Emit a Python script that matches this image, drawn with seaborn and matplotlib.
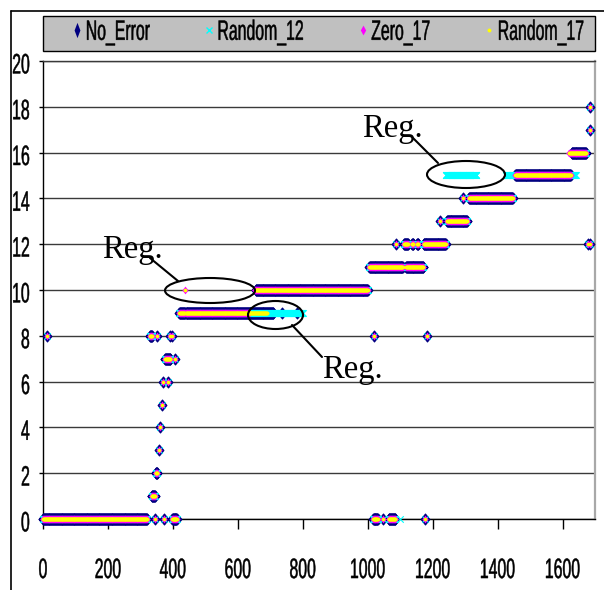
import numpy as np
import pandas as pd
import matplotlib
matplotlib.use("Agg")
import matplotlib.pyplot as plt
import seaborn as sns
from matplotlib.lines import Line2D
from matplotlib.markers import MarkerStyle
from matplotlib.patches import Ellipse, Rectangle
from matplotlib.path import Path
from matplotlib.patheffects import AbstractPathEffect
from matplotlib.transforms import Affine2D, ScaledTranslation

# Class level per sample index, stored as runs: (first index, last index, class)
common_runs = [
    (0, 320, 0), (345, 345, 0), (374, 374, 0), (398, 412, 0),
    (13, 13, 8), (330, 336, 8), (351, 351, 8), (390, 390, 8), (398, 398, 8),
    (335, 345, 1), (347, 352, 2), (357, 357, 3), (361, 361, 4), (366, 366, 5),
    (370, 370, 6), (385, 385, 6), (376, 392, 7), (408, 408, 7),
    (420, 436, 9), (440, 635, 9),
    (1017, 1031, 0), (1048, 1048, 0), (1065, 1085, 0), (1175, 1175, 0),
    (1018, 1018, 8), (1183, 1183, 8),
    (1005, 1108, 11), (1118, 1171, 11),
    (1086, 1086, 12), (1112, 1124, 12), (1136, 1140, 12), (1152, 1156, 12),
    (1172, 1240, 12), (1677, 1677, 12), (1686, 1686, 12),
    (1224, 1224, 13), (1244, 1306, 13),
    (1292, 1292, 14), (1312, 1446, 14),
    (1685, 1685, 17), (1685, 1685, 18),
]
no_error_runs = [(438, 438, 9), (636, 709, 9), (737, 737, 9), (782, 782, 9),
                 (655, 1000, 10), (1455, 1625, 15), (1628, 1672, 16)]
random_12_runs = [(438, 438, 9), (636, 800, 9), (801, 1000, 10), (1098, 1098, 0),
                  (1240, 1335, 15), (1425, 1640, 15), (1628, 1672, 16)]
zero_17_runs = [(438, 438, 10), (652, 1000, 10), (1455, 1625, 15), (1620, 1672, 16)]
random_17_runs = [(438, 438, 10), (636, 690, 9), (655, 1000, 10),
                  (1455, 1625, 15), (1620, 1672, 16)]

series_names = ["No_Error", "Random_12", "Zero_17", "Random_17"]
x_ticks = [0, 200, 400, 600, 800, 1000, 1200, 1400, 1600]
y_ticks = [0, 2, 4, 6, 8, 10, 12, 14, 16, 18, 20]
note_label = "Reg."


def expand(runs):
    xs, ys = [], []
    for first, last, level in runs:
        idx = np.arange(first, last + 1)
        xs.append(idx)
        ys.append(np.full(idx.size, level))
    return pd.DataFrame({"index": np.concatenate(xs), "class": np.concatenate(ys)})


class Stretch(AbstractPathEffect):
    """Draw text paths stretched vertically about the middle of the cap height,
    with a thin outline in the text colour to give the glyphs some weight."""

    def __init__(self, sy, cy=36.0, stroke=0.35):
        super().__init__()
        self._t = Affine2D().translate(0, -cy).scale(1.0, sy).translate(0, cy)
        self._stroke = stroke

    def draw_path(self, renderer, gc, tpath, affine, rgbFace=None):
        gc0 = renderer.new_gc()
        gc0.copy_properties(gc)
        if rgbFace is not None:
            gc0.set_foreground(rgbFace)
        gc0.set_linewidth(self._stroke)
        renderer.draw_path(gc0, tpath, self._t + affine, rgbFace)
        gc0.restore()


sns.set_theme(style="white")
plt.rcParams["font.family"] = ["Liberation Sans", "DejaVu Sans"]
stretch = [Stretch(1.77)]
FS = 11.4

W, H = 604, 590
fig = plt.figure(figsize=(W / 100, H / 100), dpi=100)
fig.patch.set_facecolor("white")
ax_l, ax_r, ax_t, ax_b = 43, 595, 61, 519
ax = fig.add_axes([ax_l / W, 1 - ax_b / H, (ax_r - ax_l) / W, (ax_b - ax_t) / H])
ax.set_facecolor("white")


def diamond(ratio):
    return MarkerStyle(Path([(0, 1), (ratio, 0), (0, -1), (-ratio, 0), (0, 1)], closed=True))


styles = [
    dict(marker=diamond(0.8), s=62, color="#000080", edgecolor="#000080", linewidth=0.8),
    dict(marker="x", s=22, color="#00FFFF", linewidth=0.8),
    dict(marker=diamond(0.8), s=31, color="#FF00FF", linewidth=0),
    dict(marker="o", s=7, color="#FFFF00", linewidth=0),
]
all_runs = [no_error_runs, random_12_runs, zero_17_runs, random_17_runs]

for k, (runs, st) in enumerate(zip(all_runs, styles)):
    df = expand(common_runs + runs)
    sns.scatterplot(data=df, x="index", y="class", ax=ax, legend=False, zorder=3 + k, **st)
    ax.collections[-1].set_clip_on(False)

ax.set_xlim(0, 1700)
ax.set_ylim(0, 20)
ax.set_xticks(x_ticks)
ax.set_yticks(y_ticks)
ax.set_xlabel("")
ax.set_ylabel("")
ax.grid(axis="y", color="#3a3a3a", linewidth=1.0)
ax.grid(axis="x", visible=False)
ax.set_axisbelow(True)

for side in ["left", "bottom"]:
    ax.spines[side].set_color("black")
    ax.spines[side].set_linewidth(1.0)
ax.spines["top"].set_color("#3a3a3a")
ax.spines["top"].set_linewidth(1.0)
ax.spines["right"].set_color("#a8a8a8")
ax.spines["right"].set_linewidth(1.6)

ax.tick_params(axis="x", direction="out", length=7.2, width=1.0, color="black",
               pad=23.5, labelsize=FS, labelcolor="black", bottom=True)
ax.tick_params(axis="y", direction="out", length=3.0, width=1.0, color="black",
               pad=6.5, labelsize=FS, labelcolor="black", left=True)
for lab in ax.get_xticklabels() + ax.get_yticklabels():
    lab.set_path_effects(stretch)
for lab in ax.get_yticklabels():
    lab.set_transform(lab.get_transform() + ScaledTranslation(0, -2 / 100, fig.dpi_scale_trans))

# Outer chart frame
fig.add_artist(Line2D([11 / W, 11 / W], [0, 1 - 11 / H], transform=fig.transFigure,
                      color="black", linewidth=1.2))
fig.add_artist(Line2D([11 / W, 1], [1 - 11 / H, 1 - 11 / H], transform=fig.transFigure,
                      color="black", linewidth=1.2))

# Legend box
fig.add_artist(Rectangle((43 / W, 1 - 51 / H), (595 - 43) / W, 35 / H,
                         transform=fig.transFigure, facecolor="#C0C0C0",
                         edgecolor="black", linewidth=1.0, zorder=1))
handles = [
    Line2D([], [], ls="none", marker=diamond(0.38), markersize=11, color="#000080",
           markeredgewidth=0),
    Line2D([], [], ls="none", marker="x", markersize=4.5, color="#00FFFF", markeredgewidth=1.0),
    Line2D([], [], ls="none", marker=diamond(0.55), markersize=7, color="#FF00FF",
           markeredgewidth=0),
    Line2D([], [], ls="none", marker="o", markersize=2.8, color="#FFFF00", markeredgewidth=0),
]
leg = fig.legend(handles, series_names, ncol=4, loc="center left",
                 bbox_to_anchor=(72.3 / W, 1 - 31 / H), bbox_transform=fig.transFigure,
                 frameon=False, fontsize=FS, handlelength=0.6, handletextpad=0.25,
                 columnspacing=3.4, borderpad=0, borderaxespad=0)
for t in leg.get_texts():
    t.set_path_effects(stretch)
    t.set_color("black")


def px2data(px, py):
    return ((px - ax_l) / (ax_r - ax_l) * 1700, (ax_b - py) / (ax_b - ax_t) * 20)


def px2size(w, h):
    return (w / (ax_r - ax_l) * 1700, h / (ax_b - ax_t) * 20)


notes = [
    # ellipse centre, ellipse size, leader start, leader end, text left/baseline
    ((210, 290.5), (90, 25), (178, 281), (150, 258), (102, 258)),
    ((275.5, 315), (55, 28), (292, 325), (322, 357), (322, 378)),
    ((466, 174.5), (78, 27), (438, 163), (413, 138), (362, 137)),
]
for (c, size, p0, p1, tpos) in notes:
    ax.add_patch(Ellipse(px2data(*c), *px2size(*size), facecolor="none",
                         edgecolor="black", linewidth=1.5, zorder=10, clip_on=False))
    a, b = px2data(*p0), px2data(*p1)
    ax.add_line(Line2D([a[0], b[0]], [a[1], b[1]], color="black", linewidth=1.5,
                       zorder=10, clip_on=False))
    tx, ty = px2data(*tpos)
    ax.text(tx, ty, note_label, fontsize=23.5, family=["Liberation Serif", "DejaVu Serif"],
            ha="left", va="baseline", color="black", zorder=11, clip_on=False)

fig.savefig("out.png", dpi=100, facecolor="white")
